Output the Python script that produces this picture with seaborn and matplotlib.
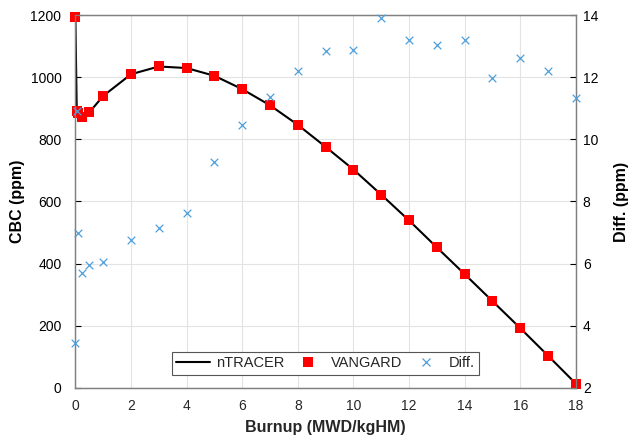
import matplotlib
matplotlib.use("Agg")
import matplotlib.pyplot as plt
import seaborn as sns
import pandas as pd
from matplotlib.lines import Line2D

burnup = [0, 0.05, 0.1, 0.25, 0.5, 1, 2, 3, 4, 5, 6, 7, 8, 9, 10, 11, 12, 13, 14, 15, 16, 17, 18]
ntracer = [1195, 893, 885, 872, 887, 940, 1010, 1035, 1030, 1005, 962, 910, 847, 776, 703, 622, 539, 452, 366, 279, 192, 103, 13]
vangard = [1195, 893, 885, 872, 887, 940, 1010, 1035, 1030, 1005, 962, 910, 847, 776, 703, 622, 539, 452, 366, 279, 192, 103, 13]
diff = [3.45, 10.9, 7.0, 5.71, 5.97, 6.05, 6.77, 7.14, 7.64, 9.26, 10.47, 11.37, 12.2, 12.86, 12.88, 13.91, 13.2, 13.04, 13.19, 11.97, 12.61, 12.19, 11.34]

xticks = [0, 2, 4, 6, 8, 10, 12, 14, 16, 18]
yticks_left = [0, 200, 400, 600, 800, 1000, 1200]
yticks_right = [2, 4, 6, 8, 10, 12, 14]

df = pd.DataFrame({"burnup": burnup, "ntracer": ntracer, "vangard": vangard, "diff": diff})

sns.set_theme(style="white")
plt.rcParams["font.family"] = ["Liberation Sans", "DejaVu Sans"]

fig = plt.figure(figsize=(6.28, 4.43), dpi=100)
ax = fig.add_axes([0.12, 0.1248, 0.797, 0.8407])

red = "#FF0000"
blue = "#4C9FDB"

sns.lineplot(data=df, x="burnup", y="ntracer", ax=ax, color="black", linewidth=1.5, zorder=2)
sns.scatterplot(data=df, x="burnup", y="vangard", ax=ax, color=red, marker="s", s=44,
                linewidth=0, zorder=3, clip_on=False)
ax.set_xlim(0, 18)
ax.set_ylim(0, 1200)
ax.set_xticks(xticks)
ax.set_yticks(yticks_left)
ax.grid(True, color="#E3E3E3", linewidth=0.8)
ax.set_axisbelow(True)
ax.set_xlabel("Burnup (MWD/kgHM)", fontsize=11.5, fontweight="bold", color="#262626", labelpad=5)
ax.set_ylabel("CBC (ppm)", fontsize=11.5, fontweight="bold", color="#000000", labelpad=4)
ax.tick_params(axis="both", direction="in", length=4, labelsize=10, colors="#262626",
               width=0.8)
ax.tick_params(axis="x", pad=8)
ax.tick_params(axis="y", colors="#000000", pad=10)

ax2 = ax.twinx()
sns.scatterplot(data=df, x="burnup", y="diff", ax=ax2, color=blue, marker="x", s=30,
                linewidth=0.9, zorder=4, clip_on=False)
ax2.set_ylim(2, 14)
ax2.set_yticks(yticks_right)
ax2.set_ylabel("Diff. (ppm)", fontsize=11.5, fontweight="bold", color="#000000", labelpad=11)
ax2.tick_params(axis="y", direction="in", length=4, labelsize=10, colors="#000000", width=0.8,
                pad=5)
ax2.set_xlim(0, 18)

for a in (ax, ax2):
    for s in a.spines.values():
        s.set_color("#808080")
        s.set_linewidth(0.9)

handles = [
    Line2D([], [], color="black", linewidth=1.5),
    Line2D([], [], color=red, marker="s", linestyle="none", markersize=6.5, markeredgewidth=0),
    Line2D([], [], color=blue, marker="x", linestyle="none", markersize=6, markeredgewidth=0.9),
]
leg = ax2.legend(handles, ["nTRACER", "VANGARD", "Diff."], ncol=3, loc="lower center",
                 bbox_to_anchor=(0.5, 0.035), fontsize=10.5, frameon=True, fancybox=False,
                 handlelength=2.3, handletextpad=0.4, columnspacing=0.5, borderpad=0.3,
                 borderaxespad=0)
leg.get_frame().set_edgecolor("#555555")
leg.get_frame().set_linewidth(0.8)
leg.get_frame().set_alpha(1)

fig.savefig("out.png", dpi=100)
